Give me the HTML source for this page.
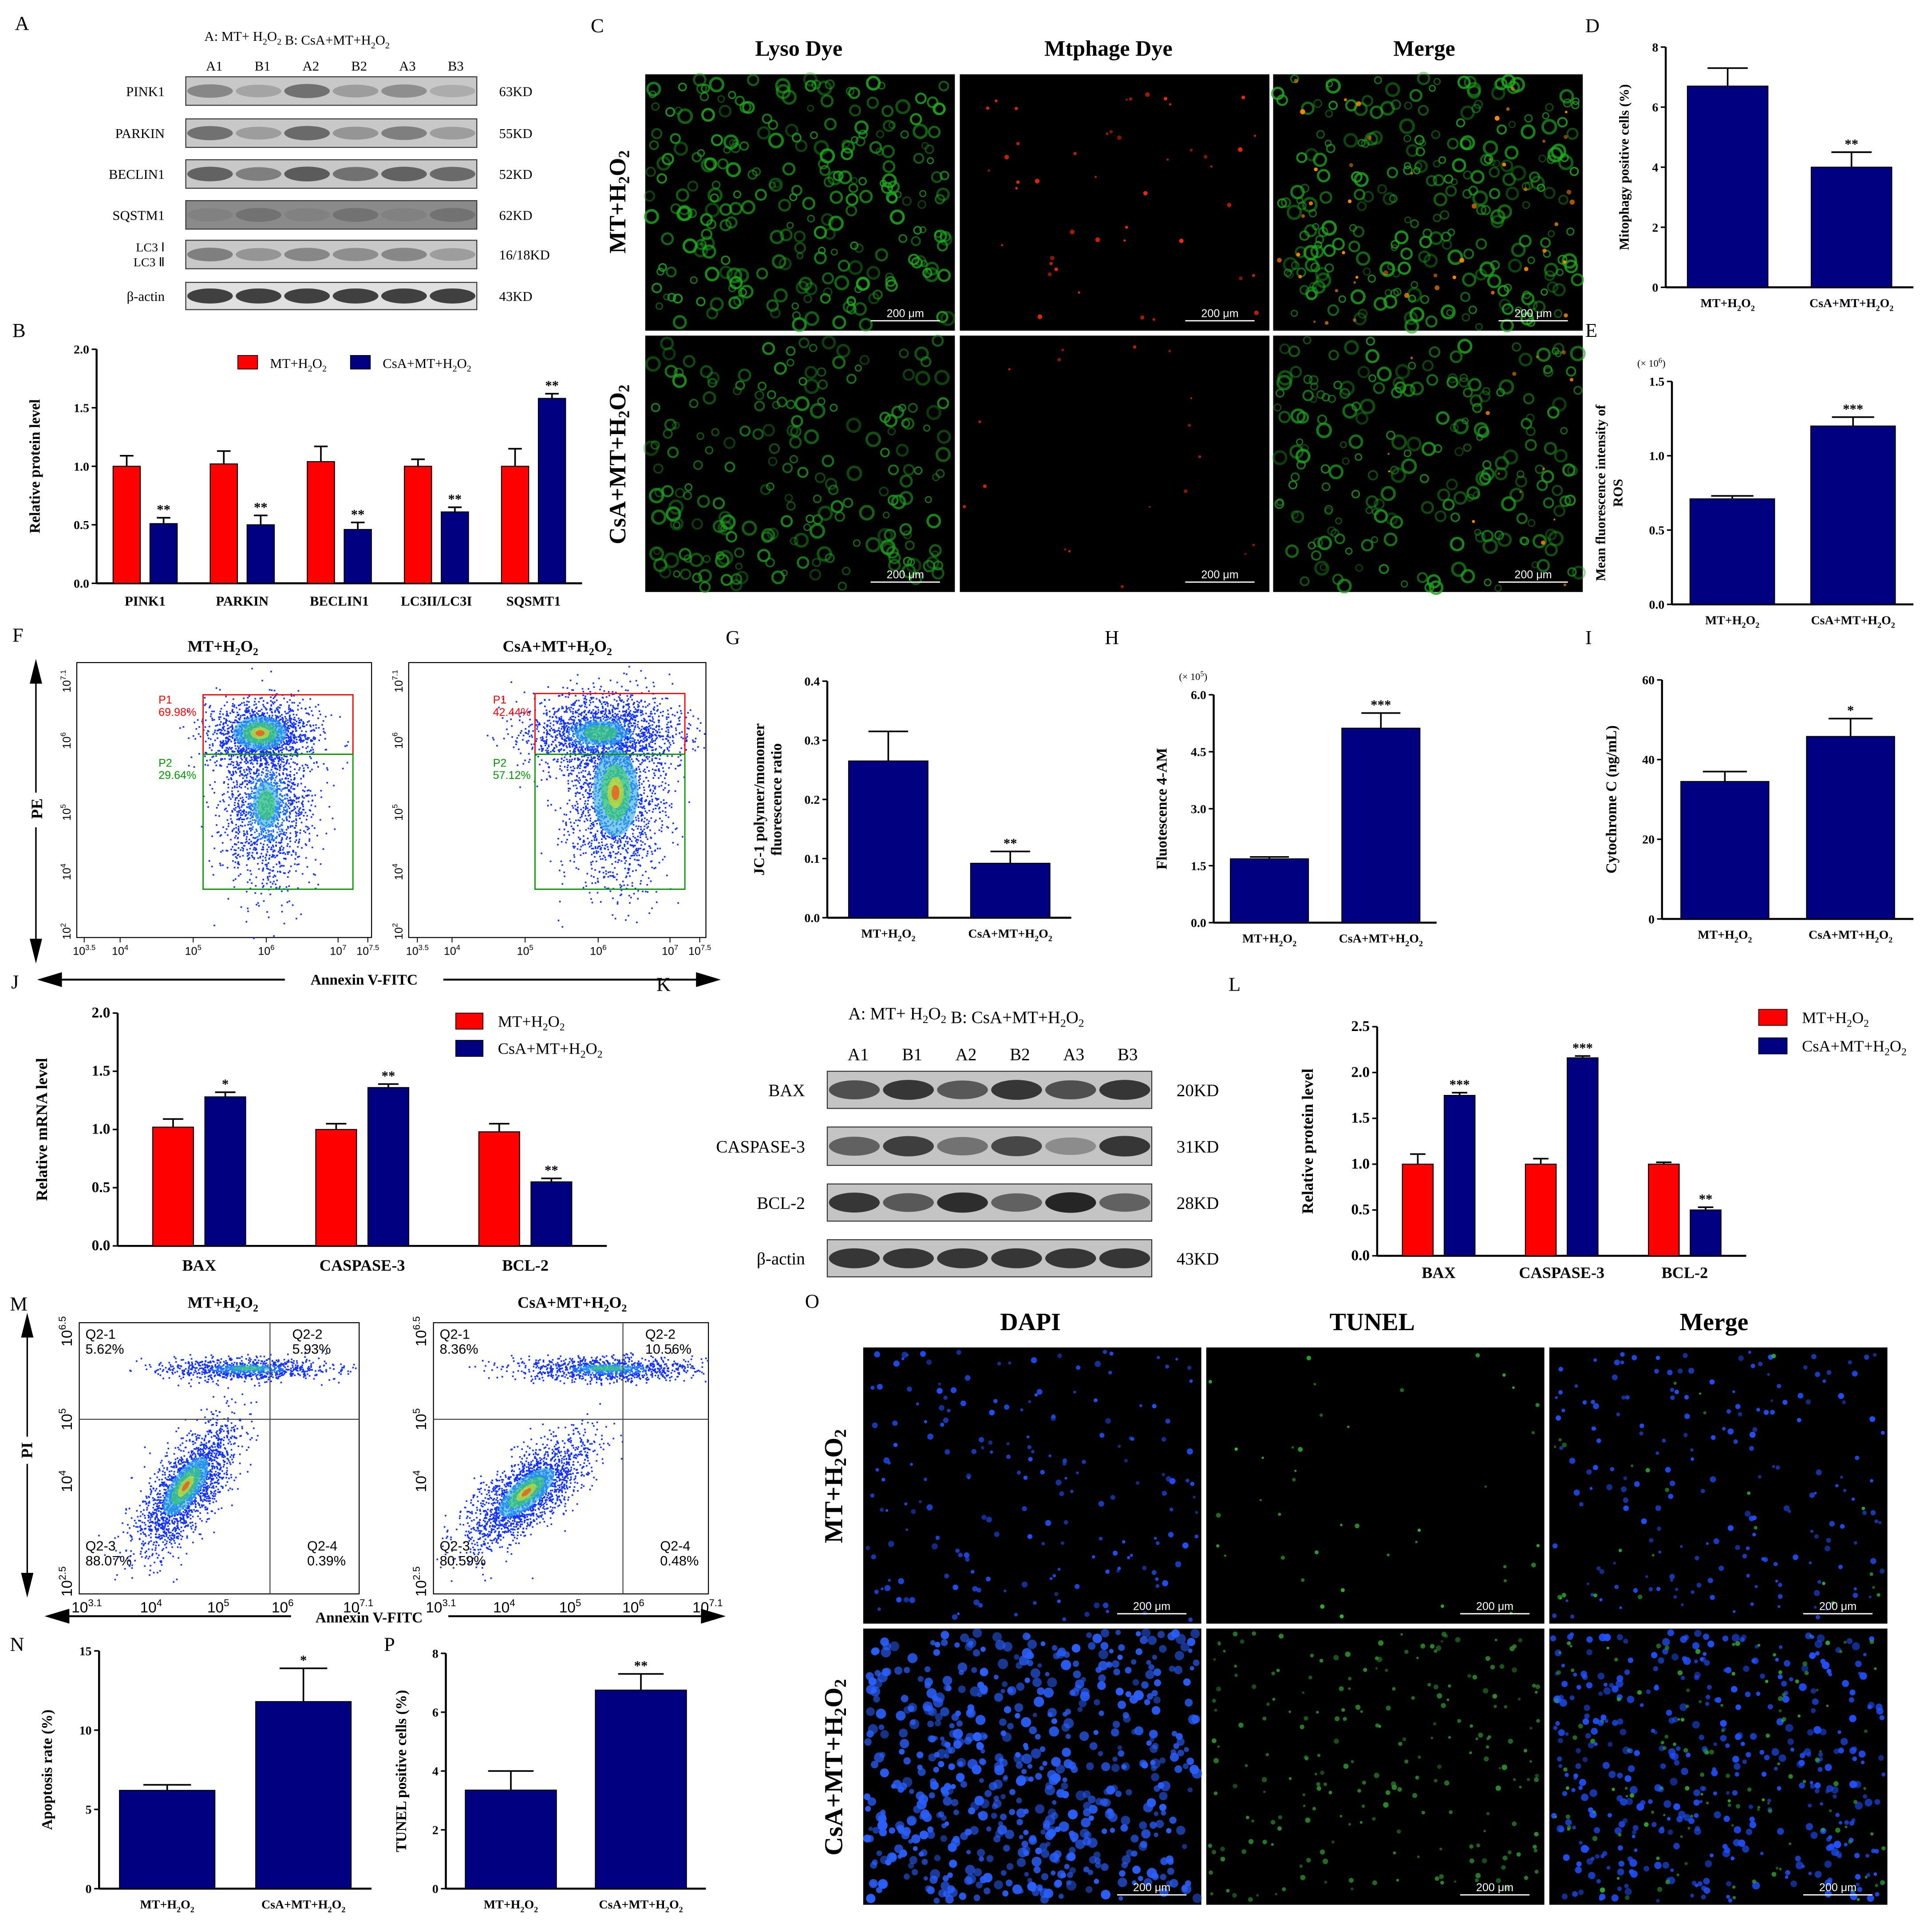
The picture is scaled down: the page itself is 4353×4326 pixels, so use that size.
<!DOCTYPE html>
<html><head><meta charset="utf-8">
<style>
html,body{margin:0;padding:0;background:#fff;}
svg{display:block;}
text{font-family:"Liberation Serif",serif;}
.sans{font-family:"Liberation Sans",sans-serif;}
</style></head>
<body>
<svg id="fig" xmlns="http://www.w3.org/2000/svg" width="4353" height="4326" viewBox="0 0 1560 1550.3" preserveAspectRatio="none">
<rect x="0" y="0" width="1560" height="1551" fill="#fff"/>
</svg>
<script>
// ---------- chart data ----------
const catsB = ["PINK1","PARKIN","BECLIN1","LC3II/LC3I","SQSMT1"];
const redB = [1.0,1.02,1.04,1.0,1.0];
const redBErr = [0.09,0.11,0.13,0.06,0.15];
const blueB = [0.51,0.5,0.46,0.61,1.58];
const blueBErr = [0.05,0.08,0.06,0.04,0.04];
const starsB = ["**","**","**","**","**"];
const ticksB = ["0.0","0.5","1.0","1.5","2.0"];

const cats2 = ["MT+H2O2","CsA+MT+H2O2"];
const valD = [6.7,4.0], errD=[0.6,0.5], starsD=["","**"], ticksD=["0","2","4","6","8"];
const valE = [0.71,1.2], errE=[0.02,0.06], starsE=["","***"], ticksE=["0.0","0.5","1.0","1.5"];
const valG = [0.265,0.092], errG=[0.05,0.02], starsG=["","**"], ticksG=["0.0","0.1","0.2","0.3","0.4"];
const valH = [1.68,5.12], errH=[0.05,0.4], starsH=["","***"], ticksH=["0.0","1.5","3.0","4.5","6.0"];
const valI = [34.5,45.8], errI=[2.5,4.5], starsI=["","*"], ticksI=["0","20","40","60"];
const valN = [6.2,11.8], errN=[0.35,2.1], starsN=["","*"], ticksN=["0","5","10","15"];
const valP = [3.35,6.75], errP=[0.65,0.55], starsP=["","**"], ticksP=["0","2","4","6","8"];

const catsJ = ["BAX","CASPASE-3","BCL-2"];
const redJ=[1.02,1.0,0.98], redJErr=[0.07,0.05,0.07];
const blueJ=[1.28,1.36,0.55], blueJErr=[0.04,0.03,0.03];
const starsJ=["*","**","**"], ticksJ=["0.0","0.5","1.0","1.5","2.0"];
const redL=[1.0,1.0,1.0], redLErr=[0.11,0.06,0.02];
const blueL=[1.75,2.16,0.5], blueLErr=[0.03,0.02,0.03];
const starsL=["***","***","**"], ticksL=["0.0","0.5","1.0","1.5","2.0","2.5"];

const svg=document.getElementById('fig');
const NS="http://www.w3.org/2000/svg";
function el(tag,attrs,parent){const e=document.createElementNS(NS,tag);for(const k in attrs)e.setAttribute(k,attrs[k]);(parent||svg).appendChild(e);return e;}
const RED="#ff0000", BLUE="#000080";

function label(x,y,str,opts){
  opts=opts||{};
  const t=el('text',{x:x,y:y,'font-size':opts.size||12,'font-weight':opts.bold===false?'normal':'bold','text-anchor':opts.anchor||'middle',fill:opts.fill||'#000'},opts.parent);
  if(opts.rotate) t.setAttribute('transform','rotate('+opts.rotate+' '+x+' '+y+')');
  const parts=str.split(/(H2O2)/);
  parts.forEach(p=>{
    if(p==="H2O2"){
      const a=el('tspan',{},t);a.textContent="H";
      const b=el('tspan',{'font-size':(opts.size||12)*0.65,dy:3},t);b.textContent="2";
      const c=el('tspan',{dy:-3},t);c.textContent="O";
      const d=el('tspan',{'font-size':(opts.size||12)*0.65,dy:3},t);d.textContent="2";
      const e=el('tspan',{dy:-3},t);e.textContent="";
    } else if(p){const s=el('tspan',{},t);s.textContent=p;}
  });
  return t;
}

function panelLetter(x,y,l){const t=el('text',{x:x,y:y,'font-size':16});t.textContent=l;

}

function barChart(c){
  const g=el('g',{});
  
  
  const h=c.y1-c.y0, w=c.x1-c.x0;
  const Y=v=>c.y1-v/c.max*h;
  el('line',{x1:c.x0,y1:c.y0,x2:c.x0,y2:c.y1,stroke:'#000','stroke-width':1.6},g);
  el('line',{x1:c.x0,y1:c.y1,x2:c.x1,y2:c.y1,stroke:'#000','stroke-width':1.6},g);
  const nt=c.ticks.length;
  c.ticks.forEach((tk,i)=>{
    const v=c.max*i/(nt-1), y=Y(v);
    el('line',{x1:c.x0-4,y1:y,x2:c.x0,y2:y,stroke:'#000','stroke-width':1.2},g);
    const t=el('text',{x:c.x0-6,y:y+3.5,'font-size':c.tickSize||10,'font-weight':'bold','text-anchor':'end'},g);
    t.textContent=tk;
    
    
  });
  const n=c.cats.length, band=w/n;
  c.cats.forEach((cat,i)=>{
    const cx=c.x0+band*(i+0.5);
    const lt=label(cx,c.y1+(c.catDy||16),cat,{size:c.catSize||11,parent:g});
    
    
    c.series.forEach((s,si)=>{
      const bw=band*c.bw;
      const bx=cx+(c.series.length>1?(si===0?-1:1)*band*c.off:0)-bw/2;
      const v=s.vals[i], e=s.errs[i];
      const r=el('rect',{x:bx,y:Y(v),width:bw,height:c.y1-Y(v),fill:s.color,stroke:'#000','stroke-width':0.8},g);
      
      
      const mx=bx+bw/2;
      el('line',{x1:mx,y1:Y(v),x2:mx,y2:Y(v+e),stroke:'#000','stroke-width':1.3},g);
      el('line',{x1:mx-bw*0.25,y1:Y(v+e),x2:mx+bw*0.25,y2:Y(v+e),stroke:'#000','stroke-width':1.3},g);
      if(s.stars && s.stars[i]){
        const st=el('text',{x:mx,y:Y(v+e)-3,'font-size':11,'font-weight':'bold','text-anchor':'middle'},g);
        st.textContent=s.stars[i];
      }
    });
  });
  if(c.ylabel){
    c.ylabel.forEach((ln,k)=>{
      const x=c.ylx+k*14, y=(c.y0+c.y1)/2;
      const t=label(x,y,ln,{size:c.ylSize||12,rotate:-90,parent:g});
      
      
    });
  }
  if(c.mult){const t=el('text',{x:c.mult[0],y:c.mult[1],'font-size':8},g);t.textContent="(× 10";const s=el('tspan',{dy:-3,'font-size':6},t);s.textContent=c.mult[2];const s2=el('tspan',{dy:3},t);s2.textContent=")";}
}

// ---------- microscopy ----------
let seed=12345;
function rnd(){seed=(seed*1103515245+12345)%2147483648;return seed/2147483648;}
function micro(x,y,w,h,name,layers){
  const g=el('g',{});
  
  
  el('rect',{x:x,y:y,width:w,height:h,fill:'#000'},g);
  layers.forEach(L=>{
    for(let i=0;i<L.n;i++){
      const cx=x+3+rnd()*(w-6), cy=y+3+rnd()*(h-6);
      const r=L.r*(0.6+rnd()*0.8);
      if(L.ring){
        el('circle',{cx:cx,cy:cy,r:r,fill:'none',stroke:L.color,'stroke-width':r*0.4,opacity:0.35+rnd()*0.5},g);
      } else el('circle',{cx:cx,cy:cy,r:r,fill:L.color,opacity:0.5+rnd()*0.5},g);
    }
  });
  el('line',{x1:x+w-68,y1:y+h-8,x2:x+w-12,y2:y+h-8,stroke:'#fff','stroke-width':1},g);
  const t=el('text',{x:x+w-40,y:y+h-11,'font-size':9,fill:'#fff','text-anchor':'middle',class:'sans'},g);t.textContent="200 μm";
}

// ---------- blots ----------
function blot(x,y,w,h,lanes,dark,name,bg,k){
  k=k||1;
  const g=el('g',{});
  
  
  el('rect',{x:x,y:y,width:w,height:h,fill:bg||'#b8b8b8',stroke:'#333','stroke-width':0.8},g);
  const lw=w/lanes;
  dark.forEach((d,i)=>{
    const gr=Math.round(200-d*190*k);
    el('ellipse',{cx:x+lw*(i+0.5),cy:y+h/2,rx:lw*0.47,ry:h*0.2+d*h*0.08,fill:'rgb('+gr+','+gr+','+gr+')',opacity:0.9},g);
  });
}

// ============ A ============
panelLetter(12,24,"A");
label(165,33,"A: MT+ H2O2     B: CsA+MT+H2O2",{size:11,bold:false,anchor:'start'});
["A1","B1","A2","B2","A3","B3"].forEach((l,i)=>{const t=el('text',{x:173+i*39,y:57,'font-size':11,'text-anchor':'middle'});t.textContent=l;});
const rowsA=[["PINK1",62,23,[0.45,0.25,0.6,0.3,0.4,0.2],"63KD"],["PARKIN",96,23,[0.6,0.3,0.65,0.35,0.5,0.3],"55KD"],["BECLIN1",129,23,[0.7,0.5,0.75,0.6,0.7,0.65],"52KD"],["SQSTM1",162,23,[0.45,0.55,0.45,0.55,0.45,0.55],"62KD"],["LC3",194,23,[0.5,0.35,0.45,0.4,0.45,0.3],"16/18KD"],["β-actin",228,22,[0.95,0.95,0.95,0.95,0.95,0.95],"43KD"]];
rowsA.forEach(r=>{
  blot(150,r[1],235,r[2],6,r[3],'blot-a-'+r[0].toLowerCase(),r[0]==="SQSTM1"?'#8a8a8a':(r[0]==="β-actin"?'#e0e0e0':'#c8c8c8'),0.85);
  if(r[0]==="LC3"){const t=el('text',{x:133,y:r[1]+9,'font-size':10,'text-anchor':'end'});t.textContent="LC3 Ⅰ";const t2=el('text',{x:133,y:r[1]+21,'font-size':10,'text-anchor':'end'});t2.textContent="LC3 Ⅱ";}
  else{const t=el('text',{x:133,y:r[1]+r[2]/2+4,'font-size':11,'text-anchor':'end'});t.textContent=r[0];}
  const k=el('text',{x:403,y:r[1]+r[2]/2+4,'font-size':11});k.textContent=r[4];
});

// ============ B ============
panelLetter(10,272,"B");
barChart({name:'chart-b',x0:78,x1:470,y0:282,y1:471,max:2.0,ticks:ticksB,cats:catsB,bw:0.28,off:0.19,catSize:11,catDy:18,
 series:[{vals:redB,errs:redBErr,color:RED},{vals:blueB,errs:blueBErr,color:BLUE,stars:starsB}],
 ylabel:["Relative protein level"],ylx:32});
el('rect',{x:192,y:287,width:16,height:11,fill:RED,stroke:'#000','stroke-width':0.6});
label(218,297,"MT+H2O2",{size:11,bold:false,anchor:'start'});
el('rect',{x:283,y:287,width:16,height:11,fill:BLUE,stroke:'#000','stroke-width':0.6});
label(309,297,"CsA+MT+H2O2",{size:11,bold:false,anchor:'start'});

// ============ C ============
panelLetter(477,26,"C");
[["Lyso Dye",645],["Mtphage Dye",895],["Merge",1150]].forEach(a=>{const t=el('text',{x:a[1],y:45,'font-size':18,'font-weight':'bold','text-anchor':'middle'});t.textContent=a[0];});
label(505,163,"MT+H2O2",{size:19,rotate:-90});
label(505,375,"CsA+MT+H2O2",{size:19,rotate:-90});
const cx=[521,775,1028], cy=[60,271], cw=250, ch=207;
micro(cx[0],cy[0],cw,ch,'image-lyso-mt',[{n:260,r:3.8,color:'#1fb01f',ring:true}]);
micro(cx[1],cy[0],cw,ch,'image-mtphage-mt',[{n:45,r:1.4,color:'#ff2a00'}]);
micro(cx[2],cy[0],cw,ch,'image-merge-mt',[{n:260,r:3.8,color:'#1fb01f',ring:true},{n:45,r:1.5,color:'#ff8800'}]);
micro(cx[0],cy[1],cw,ch,'image-lyso-csa',[{n:210,r:3.8,color:'#1fa01f',ring:true}]);
micro(cx[1],cy[1],cw,ch,'image-mtphage-csa',[{n:18,r:1.1,color:'#dd2200'}]);
micro(cx[2],cy[1],cw,ch,'image-merge-csa',[{n:210,r:3.8,color:'#1fa01f',ring:true},{n:15,r:1.3,color:'#ff8800'}]);

// ============ D ============
panelLetter(1280,26,"D");
barChart({name:'chart-d',x0:1345,x1:1545,y0:38,y1:232,max:8,ticks:ticksD,cats:cats2,bw:0.65,catSize:10,
 series:[{vals:valD,errs:errD,color:BLUE,stars:starsD}],ylabel:["Mitophagy positive cells (%)"],ylx:1315,ylSize:11});
// ============ E ============
panelLetter(1280,272,"E");
barChart({name:'chart-e',x0:1350,x1:1545,y0:308,y1:488,max:1.5,ticks:ticksE,cats:cats2,bw:0.7,catSize:10,mult:[1322,296,"6"],
 series:[{vals:valE,errs:errE,color:BLUE,stars:starsE}],ylabel:["Mean fluorescence intensity of","ROS"],ylx:1296,ylSize:11});

// ============ F ============
panelLetter(10,518,"F");
function flow(x0,x1,y0,y1,name,blobs,gates,labels,xt){
  const g=el('g',{});
  
  
  el('rect',{x:x0,y:y0,width:x1-x0,height:y1-y0,fill:'#fff',stroke:'#000','stroke-width':0.8},g);
  blobs.forEach(b=>{
    const rot=(b.rot||0)*Math.PI/180;
    for(let i=0;i<b.n;i++){
      const a=rnd()*6.283, rr=Math.sqrt(-2*Math.log(rnd()+1e-6))*0.55;
      const dx=Math.cos(a)*rr*b.rx, dy=Math.sin(a)*rr*b.ry;
      const px=b.cx+dx*Math.cos(rot)-dy*Math.sin(rot), py=b.cy+dx*Math.sin(rot)+dy*Math.cos(rot);
      if(px<x0||px>x1||py<y0||py>y1)continue;
      el('rect',{x:px,y:py,width:1.3,height:1.3,fill:rr<0.5?'#1a6cff':'#1030ff'},g);
    }
  });
  blobs.forEach(b=>{
    [["#30a8e0",0.7],["#40d060",0.45],["#e8e020",0.25],["#ff3010",0.12]].forEach(s=>{
      if(b.core<0.8&&s[1]<0.3)return;
      el('ellipse',{cx:b.cx,cy:b.cy,rx:b.rx*s[1]*b.core*0.9,ry:b.ry*s[1]*b.core*0.9,fill:s[0],opacity:0.6,transform:'rotate('+(b.rot||0)+' '+b.cx+' '+b.cy+')'},g);
    });
  });
  gates.forEach(gt=>el('rect',{x:gt[0],y:gt[1],width:gt[2],height:gt[3],fill:'none',stroke:gt[4],'stroke-width':1},g));
  labels.forEach(l=>{const t=el('text',{x:l[0],y:l[1],'font-size':9,fill:l[3],class:'sans'},g);t.textContent=l[2];});
  xt.forEach(t=>{const tx=el('text',{x:t[0],y:y1+14,'font-size':9,'text-anchor':'middle',class:'sans'},g);tx.textContent="10";const s=el('tspan',{dy:-4,'font-size':6},tx);s.textContent=t[1];
    el('line',{x1:t[0],y1:y1,x2:t[0],y2:y1+4,stroke:'#000','stroke-width':0.7},g);});
}
label(180,526,"MT+H2O2",{size:13});
label(450,526,"CsA+MT+H2O2",{size:13});
flow(62,300,535,757,'flow-f-mt',[{cx:210,cy:592,rx:38,ry:24,n:1400,core:0.9},{cx:215,cy:650,rx:34,ry:60,n:1500,core:0.5}],
 [[164,561,121,48,'#ff0000'],[164,609,121,109,'#009900']],[[128,568,"P1",'#ff0000'],[128,578,"69.98%",'#ff0000'],[128,619,"P2",'#009900'],[128,629,"29.64%",'#009900']],
 [[68,"3.5"],[97,"4"],[156,"5"],[215,"6"],[273,"7"],[297,"7.5"]]);
flow(330,570,535,757,'flow-f-csa',[{cx:485,cy:592,rx:55,ry:26,n:1600,core:0.6},{cx:497,cy:640,rx:36,ry:70,n:1800,core:0.8}],
 [[432,560,121,49,'#ff0000'],[432,609,121,109,'#009900']],[[398,568,"P1",'#ff0000'],[398,578,"42.44%",'#ff0000'],[398,619,"P2",'#009900'],[398,629,"57.12%",'#009900']],
 [[337,"3.5"],[365,"4"],[424,"5"],[483,"6"],[541,"7"],[565,"7.5"]]);
[62,330].forEach(x0=>{[["7.1",550],["6",598],["5",656],["4",704],["3",716],["2",752]].forEach((t,i)=>{const yy=t[1];if(i===4)return;
 const tx=el('text',{x:x0-5,y:yy,'font-size':9,'text-anchor':'middle',class:'sans',transform:'rotate(-90 '+(x0-5)+' '+yy+')'});tx.textContent="10";const s=el('tspan',{dy:-4,'font-size':6},tx);s.textContent=t[0];});});
el('line',{x1:29,y1:545,x2:29,y2:640,stroke:'#000','stroke-width':1.2});el('line',{x1:29,y1:668,x2:29,y2:760,stroke:'#000','stroke-width':1.2});
el('polygon',{points:'29,532 24,552 34,552',fill:'#000'});el('polygon',{points:'29,778 24,758 34,758',fill:'#000'});
label(34,653,"PE",{size:13,rotate:-90});
el('line',{x1:45,y1:791,x2:230,y2:791,stroke:'#000','stroke-width':1.5});el('line',{x1:358,y1:791,x2:565,y2:791,stroke:'#000','stroke-width':1.5});
el('polygon',{points:'30,791 50,785 50,797',fill:'#000'});el('polygon',{points:'582,791 562,785 562,797',fill:'#000'});
label(294,795,"Annexin V-FITC",{size:12});
panelLetter(9,798,"J");

// ============ G H I ============
panelLetter(586,520,"G");
barChart({name:'chart-g',x0:668,x1:865,y0:550,y1:741,max:0.4,ticks:ticksG,cats:cats2,bw:0.65,catSize:10,
 series:[{vals:valG,errs:errG,color:BLUE,stars:starsG}],ylabel:["JC-1 polymer/monomer","fluorescence ratio"],ylx:617,ylSize:12});
panelLetter(892,520,"H");
barChart({name:'chart-h',x0:980,x1:1160,y0:561,y1:745,max:6.0,ticks:ticksH,cats:cats2,bw:0.7,catSize:10,mult:[952,549,"5"],
 series:[{vals:valH,errs:errH,color:BLUE,stars:starsH}],ylabel:["Fluotescence 4-AM"],ylx:942,ylSize:12});
panelLetter(1280,520,"I");
barChart({name:'chart-i',x0:1342,x1:1545,y0:549,y1:742,max:60,ticks:ticksI,cats:cats2,bw:0.7,catSize:10,
 series:[{vals:valI,errs:errI,color:BLUE,stars:starsI}],ylabel:["Cytochrome C (ng/mL)"],ylx:1305,ylSize:12});

// ============ J ============
barChart({name:'chart-j',x0:95,x1:490,y0:818,y1:1006,max:2.0,ticks:ticksJ,cats:catsJ,bw:0.25,off:0.16,catSize:13,catDy:20,tickSize:12,
 series:[{vals:redJ,errs:redJErr,color:RED},{vals:blueJ,errs:blueJErr,color:BLUE,stars:starsJ}],ylabel:["Relative mRNA level"],ylx:38,ylSize:13});
el('rect',{x:368,y:818,width:22,height:13,fill:RED,stroke:'#000','stroke-width':0.6});
label(402,829,"MT+H2O2",{size:13,bold:false,anchor:'start'});
el('rect',{x:368,y:840,width:22,height:13,fill:BLUE,stroke:'#000','stroke-width':0.6});
label(402,851,"CsA+MT+H2O2",{size:13,bold:false,anchor:'start'});

// ============ K ============
panelLetter(530,800,"K");
label(685,823,"A: MT+ H2O2    B: CsA+MT+H2O2",{size:14,bold:false,anchor:'start'});
["A1","B1","A2","B2","A3","B3"].forEach((l,i)=>{const t=el('text',{x:693+i*43.5,y:856,'font-size':14,'text-anchor':'middle'});t.textContent=l;});
const rowsK=[["BAX",865,30,[0.7,0.85,0.65,0.85,0.7,0.85],"20KD"],["CASPASE-3",910,31,[0.6,0.8,0.5,0.75,0.35,0.85],"31KD"],["BCL-2",956,30,[0.85,0.65,0.9,0.6,0.95,0.6],"28KD"],["β-actin",1001,30,[0.85,0.85,0.85,0.85,0.85,0.85],"43KD"]];
rowsK.forEach(r=>{blot(668,r[1],262,r[2],6,r[3],'blot-k-'+r[0].toLowerCase(),'#c4c4c4');
 const t=el('text',{x:650,y:r[1]+r[2]/2+5,'font-size':14,'text-anchor':'end'});t.textContent=r[0];
 const k=el('text',{x:950,y:r[1]+r[2]/2+5,'font-size':14});k.textContent=r[4];});

// ============ L ============
panelLetter(992,800,"L");
barChart({name:'chart-l',x0:1112,x1:1410,y0:829,y1:1014,max:2.5,ticks:ticksL,cats:catsJ,bw:0.25,off:0.17,catSize:13,catDy:18,tickSize:12,
 series:[{vals:redL,errs:redLErr,color:RED},{vals:blueL,errs:blueLErr,color:BLUE,stars:starsL}],ylabel:["Relative protein level"],ylx:1060,ylSize:13});
el('rect',{x:1420,y:815,width:23,height:13,fill:RED,stroke:'#000','stroke-width':0.6});
label(1455,826,"MT+H2O2",{size:13,bold:false,anchor:'start'});
el('rect',{x:1420,y:838,width:23,height:13,fill:BLUE,stroke:'#000','stroke-width':0.6});
label(1455,849,"CsA+MT+H2O2",{size:13,bold:false,anchor:'start'});

// ============ M ============
panelLetter(8,1058,"M");
label(180,1056,"MT+H2O2",{size:13});
label(462,1056,"CsA+MT+H2O2",{size:13});
function flowM(x0,x1,qx,name,pcts,blobs){
  flow(x0,x1,1068,1287,name,blobs,[],[],[]);
  el('line',{x1:qx,y1:1068,x2:qx,y2:1287,stroke:'#444','stroke-width':0.8});
  el('line',{x1:x0,y1:1146,x2:x1,y2:1146,stroke:'#444','stroke-width':0.8});
  const L=[[x0+5,1081,"Q2-1"],[x0+5,1093,pcts[0]],[qx+18,1081,"Q2-2"],[qx+18,1093,pcts[1]],[x0+5,1252,"Q2-3"],[x0+5,1264,pcts[2]],[qx+30,1252,"Q2-4"],[qx+30,1264,pcts[3]]];
  L.forEach(l=>{const t=el('text',{x:l[0],y:l[1],'font-size':11,class:'sans'});t.textContent=l[2];});
  const xt=[[0,"3.1"],[0.23,"4"],[0.47,"5"],[0.7,"6"],[0.97,"7.1"]];
  xt.forEach(t=>{const x=x0+t[0]*(x1-x0)+6;const tx=el('text',{x:x,y:1286+16,'font-size':12,'text-anchor':'middle',class:'sans'});tx.textContent="10";const s=el('tspan',{dy:-5,'font-size':8},tx);s.textContent=t[1];});
  [[1075,"6.5"],[1146,"5"],[1196,"4"],[1277,"2.5"]].forEach(t=>{const tx=el('text',{x:x0-6,y:t[0],'font-size':12,'text-anchor':'middle',class:'sans',transform:'rotate(-90 '+(x0-6)+' '+t[0]+')'});tx.textContent="10";const s=el('tspan',{dy:-5,'font-size':8},tx);s.textContent=t[1];});
}
flowM(64,290,218,'flow-m-mt',["5.62%","5.93%","88.07%","0.39%"],[{cx:150,cy:1200,rx:55,ry:22,n:2000,core:0.8,rot:-55},{cx:200,cy:1105,rx:60,ry:8,n:900,core:0.5}]);
flowM(350,572,503,'flow-m-csa',["8.36%","10.56%","80.59%","0.48%"],[{cx:425,cy:1205,rx:55,ry:22,n:2000,core:0.8,rot:-40},{cx:490,cy:1105,rx:65,ry:9,n:1000,core:0.5}]);
el('line',{x1:22,y1:1075,x2:22,y2:1275,stroke:'#000','stroke-width':1.2});
el('polygon',{points:'22,1060 17,1080 27,1080',fill:'#000'});el('polygon',{points:'22,1290 17,1270 27,1270',fill:'#000'});
el('rect',{x:14,y:1160,width:16,height:22,fill:'#fff'});
label(26,1171,"PI",{size:13,rotate:-90});
el('line',{x1:50,y1:1305,x2:235,y2:1305,stroke:'#000','stroke-width':1.5});el('line',{x1:362,y1:1305,x2:570,y2:1305,stroke:'#000','stroke-width':1.5});
el('polygon',{points:'36,1305 56,1299 56,1311',fill:'#000'});el('polygon',{points:'586,1305 566,1299 566,1311',fill:'#000'});
label(298,1310,"Annexin V-FITC",{size:12});

// ============ N, P ============
panelLetter(8,1333,"N");
barChart({name:'chart-n',x0:80,x1:300,y0:1333,y1:1525,max:15,ticks:ticksN,cats:cats2,bw:0.7,catSize:10,
 series:[{vals:valN,errs:errN,color:BLUE,stars:starsN}],ylabel:["Apoptosis  rate (%)"],ylx:42,ylSize:12});
panelLetter(310,1333,"P");
barChart({name:'chart-p',x0:360,x1:570,y0:1335,y1:1525,max:8,ticks:ticksP,cats:cats2,bw:0.7,catSize:10,
 series:[{vals:valP,errs:errP,color:BLUE,stars:starsP}],ylabel:["TUNEL positive cells (%)"],ylx:328,ylSize:12});

// ============ O ============
panelLetter(650,1056,"O");
[["DAPI",832],["TUNEL",1108],["Merge",1384]].forEach(a=>{const t=el('text',{x:a[1],y:1074,'font-size':20,'font-weight':'bold','text-anchor':'middle'});t.textContent=a[0];});
label(680,1200,"MT+H2O2",{size:21,rotate:-90});
label(680,1427,"CsA+MT+H2O2",{size:21,rotate:-90});
const ox=[697,974,1251], oy=[1088,1315], ow=273, oh=223;
micro(ox[0],oy[0],ow,oh,'image-dapi-mt',[{n:190,r:1.8,color:'#2050ff'}]);
micro(ox[1],oy[0],ow,oh,'image-tunel-mt',[{n:40,r:1.4,color:'#30c030'}]);
micro(ox[2],oy[0],ow,oh,'image-merge-o-mt',[{n:190,r:1.8,color:'#2050ff'},{n:25,r:1.4,color:'#30c030'}]);
micro(ox[0],oy[1],ow,oh,'image-dapi-csa',[{n:650,r:3,color:'#2a60ff'}]);
micro(ox[1],oy[1],ow,oh,'image-tunel-csa',[{n:220,r:1.6,color:'#2a8a2a'}]);
micro(ox[2],oy[1],ow,oh,'image-merge-o-csa',[{n:420,r:2.3,color:'#2050ff'},{n:130,r:1.5,color:'#30a030'}]);
</script>
</body></html>
